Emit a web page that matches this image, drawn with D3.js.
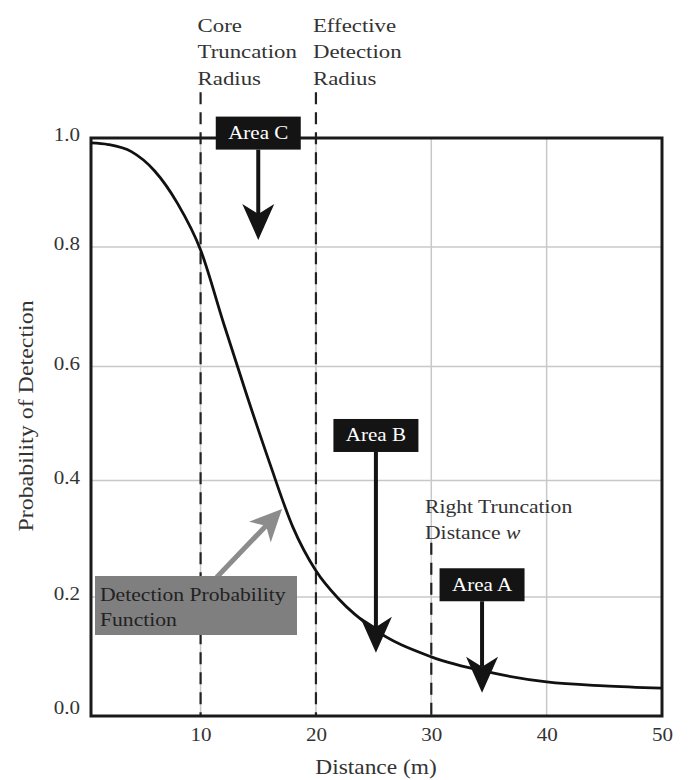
<!DOCTYPE html>
<html>
<head>
<meta charset="utf-8">
<script src="https://cdn.jsdelivr.net/npm/d3@7"></script>
<style>
  html, body { margin: 0; padding: 0; background: #fff; }
  svg text { font-family: "Liberation Serif", "DejaVu Serif", serif; }
</style>
</head>
<body>
<div id="chart"></div>
<script>
// detection probability curve
const distances = [0.5, 2, 4, 6, 8, 10, 12, 14, 16, 18, 20, 22, 25, 30, 35, 40, 45, 50];
const probabilities = [0.991, 0.988, 0.975, 0.94, 0.88, 0.795, 0.672, 0.55, 0.43, 0.32, 0.245, 0.196, 0.144, 0.095, 0.068, 0.051, 0.044, 0.040];

const xTicks = [10, 20, 30, 40, 50];
const yTicks = [0, 0.2, 0.4, 0.6, 0.8, 1.0];
const xGrid = [10, 20, 30, 40];
const yGrid = [0.2, 0.4, 0.6, 0.8];

// dashed reference distances and where their dashes start (probability units)
const markerDistances = [10, 20, 30];
const markerTops = [1.084, 1.084, 0.293];

// black "Area" callouts
const areaLabels = ['Area C', 'Area B', 'Area A'];
const areaX = [15, 25.2, 34.4];
const areaBoxY = [1.009, 0.479, 0.221];
const areaTipY = [0.813, 0.102, 0.032];

// grey callout for the curve
const fnLabel = ['Detection Probability', 'Function'];
const fnArrowFrom = [11.4, 0.234];
const fnArrowTo = [17.06, 0.351];

const W = 690, H = 780;
const plot = { left: 91, right: 662, top: 138, bottom: 716 };
const SX = 1.17; // the original lettering is set wide

const svg = d3.select('#chart').append('svg')
  .attr('width', W)
  .attr('height', H);

const x = d3.scaleLinear().domain([0.5, 50]).range([plot.left, plot.right]);
// the printed axis is not quite even, so the scale follows its gridlines
const y = d3.scaleLinear().domain(yTicks).range([711, 597, 480.5, 366.5, 247, 138]);

// widen text horizontally about its anchor x
function widen(sel, ax) {
  sel.attr('transform', `matrix(${SX},0,0,1,${ax * (1 - SX)},0)`);
}

// grid
svg.append('g').selectAll('line')
  .data(xGrid).enter().append('line')
  .attr('x1', d => x(d)).attr('x2', d => x(d))
  .attr('y1', plot.top).attr('y2', plot.bottom)
  .attr('stroke', '#c8c8c8').attr('stroke-width', 1.5);

svg.append('g').selectAll('line')
  .data(yGrid).enter().append('line')
  .attr('x1', plot.left).attr('x2', plot.right)
  .attr('y1', d => y(d)).attr('y2', d => y(d))
  .attr('stroke', '#c8c8c8').attr('stroke-width', 1.5);

// dashed markers
svg.append('g').selectAll('line')
  .data(markerDistances).enter().append('line')
  .attr('x1', d => x(d)).attr('x2', d => x(d))
  .attr('y1', (d, i) => y(markerTops[i])).attr('y2', plot.bottom)
  .attr('stroke', '#222').attr('stroke-width', 2.2)
  .attr('stroke-dasharray', '12,8');

// frame
svg.append('rect')
  .attr('x', plot.left).attr('y', plot.top)
  .attr('width', plot.right - plot.left).attr('height', plot.bottom - plot.top)
  .attr('fill', 'none').attr('stroke', '#1a1a1a').attr('stroke-width', 3);

// axes
const xAxis = svg.append('g')
  .attr('transform', `translate(0,${plot.bottom})`)
  .call(d3.axisBottom(x).tickValues(xTicks).tickSize(0).tickPadding(12));
const yAxis = svg.append('g')
  .attr('transform', `translate(${plot.left},-3)`)
  .call(d3.axisLeft(y).tickValues(yTicks).tickSize(0).tickPadding(11).tickFormat(d3.format('.1f')));
[xAxis, yAxis].forEach(a => {
  a.select('.domain').remove();
  a.selectAll('text')
    .style('font-family', '"Liberation Serif", serif')
    .style('font-size', '18px')
    .attr('fill', '#333');
});
xAxis.selectAll('text').each(function () { widen(d3.select(this), 0); });
yAxis.selectAll('text').each(function () { widen(d3.select(this), -11); });

// curve
const line = d3.line()
  .x((d, i) => x(distances[i]))
  .y(d => y(d))
  .curve(d3.curveMonotoneX);

svg.append('path')
  .datum(probabilities)
  .attr('d', line)
  .attr('fill', 'none')
  .attr('stroke', '#111')
  .attr('stroke-width', 2.8);

// arrow helper: shaft + notched head
function arrow(g, x0, y0, x1, y1, color, shaftW, headL, headW) {
  const ang = Math.atan2(y1 - y0, x1 - x0);
  const ux = Math.cos(ang), uy = Math.sin(ang);
  const px = -uy, py = ux;
  const bx = x1 - ux * headL, by = y1 - uy * headL;
  const nx = x1 - ux * headL * 0.72, ny = y1 - uy * headL * 0.72;
  g.append('line')
    .attr('x1', x0).attr('y1', y0).attr('x2', nx).attr('y2', ny)
    .attr('stroke', color).attr('stroke-width', shaftW);
  g.append('path')
    .attr('d', `M${x1},${y1}L${bx + px * headW},${by + py * headW}L${nx},${ny}L${bx - px * headW},${by - py * headW}Z`)
    .attr('fill', color);
}

// Area callouts
const boxW = 85, boxH = 33;
areaLabels.forEach((lab, i) => {
  const g = svg.append('g');
  const cx = x(areaX[i]), cy = y(areaBoxY[i]);
  arrow(g, cx, cy + boxH / 2, cx, y(areaTipY[i]), '#141414', 4, 36, 16);
  g.append('rect')
    .attr('x', cx - boxW / 2).attr('y', cy - boxH / 2)
    .attr('width', boxW).attr('height', boxH)
    .attr('fill', '#141414');
  g.append('text')
    .attr('x', cx).attr('y', cy + 6)
    .attr('text-anchor', 'middle')
    .attr('fill', '#fff')
    .style('font-size', '18px')
    .text(lab)
    .call(widen, cx);
});

// Detection probability function callout
const fg = svg.append('g');
arrow(fg, x(fnArrowFrom[0]), y(fnArrowFrom[1]), x(fnArrowTo[0]), y(fnArrowTo[1]), '#8c8c8c', 5, 32, 15);
fg.append('rect')
  .attr('x', 95).attr('y', 576)
  .attr('width', 202).attr('height', 59)
  .attr('fill', '#7f7f7f');
fg.append('text')
  .attr('x', 100).attr('y', 601)
  .attr('fill', '#222')
  .style('font-size', '18.5px')
  .call(widen, 100)
  .selectAll('tspan').data(fnLabel).enter().append('tspan')
  .attr('x', 100).attr('dy', (d, i) => i ? 25 : 0)
  .text(d => d);

// top labels over dashed lines
const topLabels = [['Core', 'Truncation', 'Radius'], ['Effective', 'Detection', 'Radius']];
topLabels.forEach((lines, i) => {
  const ax = x(markerDistances[i]) - 3;
  svg.append('text')
    .attr('fill', '#333')
    .style('font-size', '19.5px')
    .call(widen, ax)
    .selectAll('tspan').data(lines).enter().append('tspan')
    .attr('x', ax)
    .attr('y', (d, j) => 32 + j * 26.5)
    .text(d => d);
});

// right truncation label
const rt = svg.append('text')
  .attr('fill', '#333')
  .style('font-size', '18.5px')
  .call(widen, 425);
rt.append('tspan').attr('x', 425).attr('y', 513).text('Right Truncation');
rt.append('tspan').attr('x', 425).attr('y', 539).text('Distance ');
rt.append('tspan').style('font-style', 'italic').text('w');

// axis titles
svg.append('text')
  .attr('x', 376).attr('y', 774)
  .attr('text-anchor', 'middle')
  .attr('fill', '#333')
  .style('font-size', '20px')
  .text('Distance (m)')
  .call(widen, 376);

svg.append('text')
  .attr('transform', `translate(33,416) rotate(-90) scale(${SX - 0.03},1)`)
  .attr('text-anchor', 'middle')
  .attr('fill', '#333')
  .style('font-size', '21px')
  .text('Probability of Detection');
</script>
</body>
</html>
